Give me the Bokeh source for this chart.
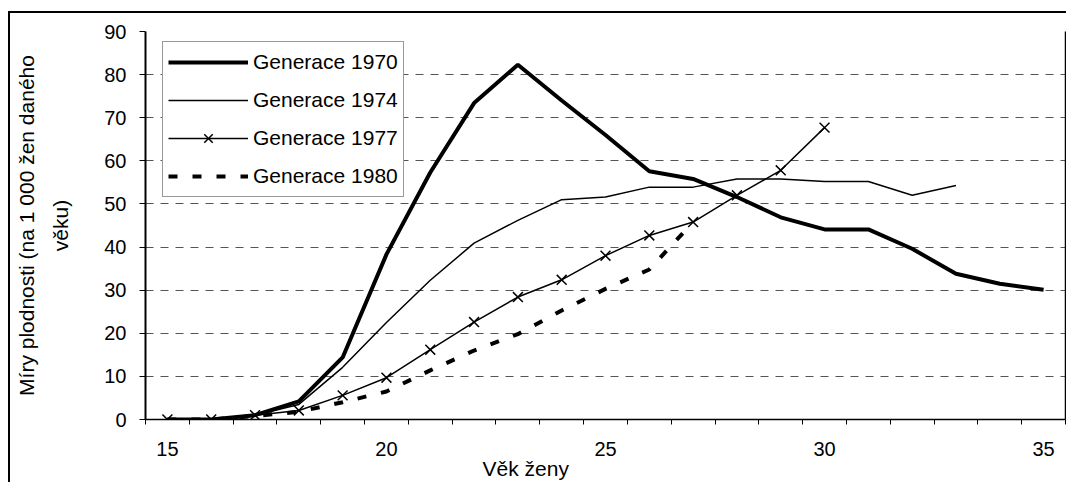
from bokeh.plotting import figure
from bokeh.models import Range1d, FixedTicker, LinearAxis, Legend, LegendItem, Title
from bokeh.embed import file_html
from bokeh.resources import INLINE

# ---- data ----
ages = list(range(15, 36))
gen_1970 = [0, 0, 1.0, 4.2, 14.4, 38.3, 57.3, 73.4, 82.3, 74.0, 66.0, 57.6, 55.8,
            51.6, 46.9, 44.1, 44.1, 39.6, 33.8, 31.5, 30.1]
ages_1974 = list(range(15, 34))
gen_1974 = [0, 0, 1.0, 3.5, 12.1, 22.5, 32.3, 40.9, 46.2, 51.0, 51.6, 53.9, 53.9,
            55.8, 55.8, 55.2, 55.2, 52.0, 54.3]
ages_1977 = list(range(15, 31))
gen_1977 = [0, 0, 1.0, 2.1, 5.6, 9.7, 16.2, 22.6, 28.4, 32.4, 38.0, 42.7, 45.8,
            52.0, 57.8, 67.7]
ages_1980 = list(range(15, 28))
gen_1980 = [0, 0, 0.8, 1.8, 4.0, 6.5, 11.4, 16.0, 19.8, 25.3, 30.3, 34.8, 45.8]

x_tick_labels = [15, 20, 25, 30, 35]
x_boundaries = [14.5 + i for i in range(22)]
y_ticks = [0, 10, 20, 30, 40, 50, 60, 70, 80, 90]
series_names = ["Generace 1970", "Generace 1974", "Generace 1977", "Generace 1980"]
y_title_lines = ["Míry plodnosti (na 1 000 žen daného", "věku)"]
x_title = "Věk ženy"

FONT = "Liberation Sans"

p = figure(width=1058, height=471, output_backend="svg", toolbar_location=None,
           x_range=Range1d(14.5, 35.5), y_range=Range1d(0, 90),
           min_border_left=135, min_border_top=18, min_border_bottom=65,
           min_border_right=3, background_fill_color="white",
           border_fill_color="white",
           styles={"margin-left": "8px", "margin-top": "11px",
                   "border-left": "2px solid black", "border-top": "2px solid black"})
p.outline_line_color = None

# axes
xa = p.xaxis[0]
xa.ticker = FixedTicker(ticks=x_tick_labels, minor_ticks=x_boundaries)
xa.major_tick_line_color = None
xa.major_tick_out = 5
xa.major_tick_in = 0
xa.minor_tick_out = 5
xa.minor_tick_in = 0
xa.minor_tick_line_color = "black"
xa.minor_tick_line_width = 1
xa.axis_line_color = "black"
xa.axis_line_width = 1.5
xa.major_label_standoff = 17
xa.major_label_text_font = FONT
xa.major_label_text_font_size = "20px"
xa.major_label_text_color = "black"

ya = p.yaxis[0]
ya.ticker = FixedTicker(ticks=y_ticks)
ya.minor_tick_line_color = None
ya.major_tick_out = 6
ya.major_tick_in = 0
ya.major_tick_line_color = "black"
ya.axis_line_color = "black"
ya.axis_line_width = 2
ya.major_label_standoff = 13
ya.major_label_text_font = FONT
ya.major_label_text_font_size = "20px"
ya.major_label_text_color = "black"
ya.axis_label = "\n".join(y_title_lines)
ya.axis_label_standoff = 29
ya.axis_label_text_font = FONT
ya.axis_label_text_font_size = "21px"
ya.axis_label_text_font_style = "normal"
ya.axis_label_text_color = "black"
ya.axis_label_text_line_height = 1.5

ra = LinearAxis(ticker=FixedTicker(ticks=[]), axis_line_color="black",
                axis_line_width=1.5, major_tick_line_color=None,
                minor_tick_line_color=None, major_label_text_font_size="0px",
                major_label_standoff=0, major_tick_out=0, minor_tick_out=0)
p.add_layout(ra, "right")

p.xgrid.grid_line_color = None
p.ygrid.grid_line_color = "#555555"
p.ygrid.grid_line_dash = "8 7"
p.ygrid.grid_line_width = 1

# series
r70 = p.line(ages, gen_1970, line_color="black", line_width=4)
r74 = p.line(ages_1974, gen_1974, line_color="black", line_width=1.5)
r77 = p.line(ages_1977, gen_1977, line_color="black", line_width=1.5)
r77m = p.scatter(ages_1977, gen_1977, marker="x", size=14, line_color="black",
                 line_width=1.5)
r80 = p.line(ages_1980, gen_1980, line_color="black", line_width=4,
             line_dash="9 15")

legend = Legend(items=[
    LegendItem(label=series_names[0], renderers=[r70]),
    LegendItem(label=series_names[1], renderers=[r74]),
    LegendItem(label=series_names[2], renderers=[r77, r77m]),
    LegendItem(label=series_names[3], renderers=[r80]),
], location=(17, 222), margin=0, padding=5, spacing=8,
    glyph_width=80, glyph_height=30, label_standoff=5,
    label_text_font=FONT, label_text_font_size="21px", label_text_color="black",
    border_line_color="#333333", border_line_width=1,
    background_fill_color="white", background_fill_alpha=1.0)
p.add_layout(legend)

t_x = Title(text=x_title, align="left", offset=337, standoff=-8,
            text_font=FONT, text_font_size="21px", text_font_style="normal",
            text_color="black")
p.add_layout(t_x, "below")

open("out.html", "w").write(file_html(p, INLINE))
